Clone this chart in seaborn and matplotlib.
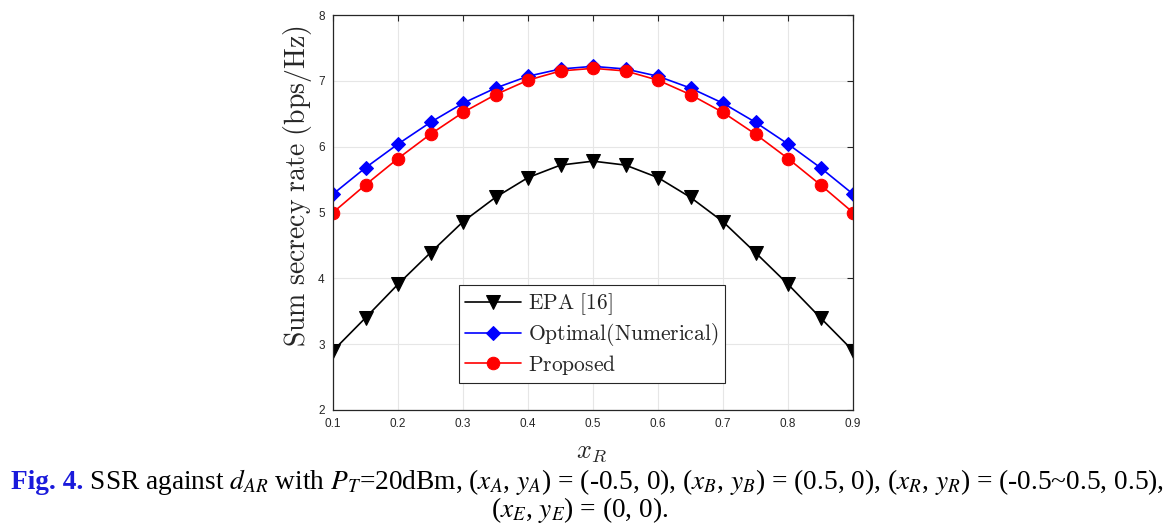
import matplotlib
matplotlib.use('Agg')
import matplotlib.pyplot as plt
import seaborn as sns
import pandas as pd

# data
x_r = [0.1, 0.15, 0.2, 0.25, 0.3, 0.35, 0.4, 0.45, 0.5,
       0.55, 0.6, 0.65, 0.7, 0.75, 0.8, 0.85, 0.9]
epa = [2.90, 3.40, 3.91, 4.39, 4.86, 5.23, 5.53, 5.72, 5.78,
       5.72, 5.53, 5.23, 4.86, 4.39, 3.91, 3.40, 2.90]
optimal = [5.28, 5.68, 6.04, 6.37, 6.66, 6.89, 7.07, 7.18, 7.22,
           7.18, 7.07, 6.89, 6.66, 6.37, 6.04, 5.68, 5.28]
proposed = [5.00, 5.42, 5.82, 6.19, 6.52, 6.79, 7.01, 7.15, 7.19,
            7.15, 7.01, 6.79, 6.52, 6.19, 5.82, 5.42, 5.00]
series_names = ['EPA [16]', 'Optimal(Numerical)', 'Proposed']
x_ticks = [0.1, 0.2, 0.3, 0.4, 0.5, 0.6, 0.7, 0.8, 0.9]
y_ticks = [2, 3, 4, 5, 6, 7, 8]

df = pd.DataFrame({
    'x': x_r * 3,
    'y': epa + optimal + proposed,
    'method': [series_names[0]] * len(x_r) + [series_names[1]] * len(x_r)
              + [series_names[2]] * len(x_r),
})

sns.set_style('whitegrid')
plt.rcParams['mathtext.fontset'] = 'cm'
plt.rcParams['font.family'] = ['Liberation Sans', 'DejaVu Sans']

fig = plt.figure(figsize=(11.7, 5.3), dpi=100)
ax = fig.add_axes([333 / 1170, 120 / 530, 520 / 1170, 395 / 530])

styles = {
    'EPA [16]': dict(color='black', marker='v', ms=10),
    'Optimal(Numerical)': dict(color='#0000ff', marker='D', ms=7),
    'Proposed': dict(color='#ff0000', marker='o', ms=9),
}
for name in series_names:
    st = styles[name]
    sns.lineplot(data=df[df['method'] == name], x='x', y='y', ax=ax,
                 color=st['color'], marker=st['marker'], markersize=st['ms'],
                 markeredgecolor=st['color'], markerfacecolor=st['color'],
                 linewidth=1.2, label=r'$\mathrm{' + name.replace(' ', r'\ ') + '}$')

ax.set_xlim(0.1, 0.9)
ax.set_ylim(2, 8)
ax.set_xticks(x_ticks)
ax.set_yticks(y_ticks)
ax.set_xticklabels([f'{t:g}' for t in x_ticks])
ax.set_yticklabels([str(t) for t in y_ticks])
ax.tick_params(direction='in', length=4, width=0.8, colors='#262626',
               labelsize=8.5, top=True, right=True, pad=6)
ax.grid(True, color='#e6e6e6', linewidth=0.8)
for sp in ax.spines.values():
    sp.set_visible(True)
    sp.set_color('#262626')
    sp.set_linewidth(0.9)

ax.set_xlabel(r'$x_R$', fontsize=19, color='#262626')
ax.xaxis.set_label_coords(0.498, -0.075)
ax.set_ylabel(r'$\mathrm{Sum\ secrecy\ rate\ (bps/Hz)}$', fontsize=20, color='#262626')
ax.yaxis.set_label_coords(-0.069, 0.567)
ax.yaxis.label.set_va('center')

leg = ax.legend(loc='lower left', bbox_to_anchor=(0.242, 0.068), borderaxespad=0,
                fontsize=15.5, frameon=True, fancybox=False, framealpha=1,
                handlelength=2.6, handletextpad=0.3, labelspacing=0.2,
                borderpad=0.3)
leg.get_frame().set_edgecolor('#262626')
leg.get_frame().set_linewidth(0.8)

# caption below the chart
cap_size = 19.7
fig.canvas.draw()
renderer = fig.canvas.get_renderer()
t1 = fig.text(0, 41 / 530, 'Fig. 4.', color='#1a1adb', fontweight='bold',
              family='Liberation Serif', fontsize=cap_size, va='baseline')
t2 = fig.text(0, 41 / 530,
              r' SSR against $d_{AR}$ with $P_T$=20dBm, ($x_A$, $y_A$) = (-0.5, 0), '
              r'($x_B$, $y_B$) = (0.5, 0), ($x_R$, $y_R$) = (-0.5~0.5, 0.5),',
              family='Liberation Serif', math_fontfamily='stix', fontsize=cap_size,
              va='baseline', color='black')
w1 = t1.get_window_extent(renderer).width
w2 = t2.get_window_extent(renderer).width
left = (1175 - (w1 + w2)) / 2
t1.set_x(left / 1170)
t2.set_x((left + w1) / 1170)
fig.text(580 / 1170, 13 / 530, r'($x_E$, $y_E$) = (0, 0).', family='Liberation Serif',
         math_fontfamily='stix', fontsize=cap_size, va='baseline', ha='center',
         color='black')

fig.savefig('out.png', dpi=100)
